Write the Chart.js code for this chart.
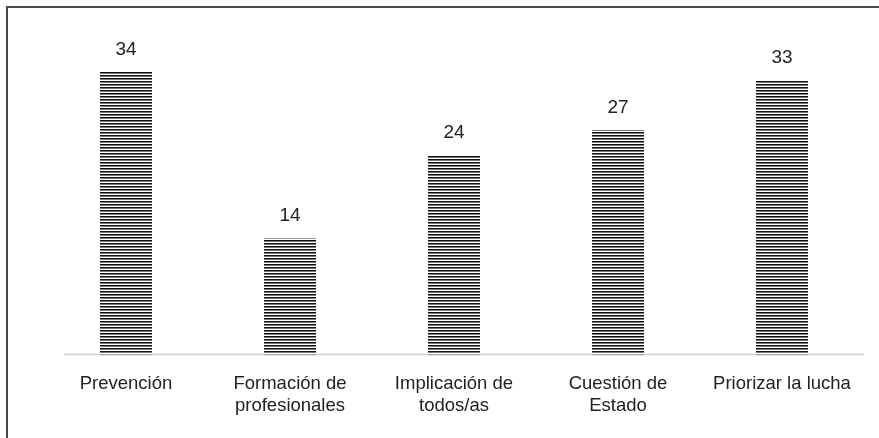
<!DOCTYPE html>
<html>
<head>
<meta charset="utf-8">
<script src="https://cdn.jsdelivr.net/npm/chart.js@4"></script>
<style>
  html, body { margin: 0; padding: 0; background: #fff; overflow: hidden; }
  #marco { position: absolute; left: 6px; top: 6px; width: 1000px; height: 1000px;
           border-top: 2px solid #4a4a4a; border-left: 2px solid #4a4a4a; }
  #cont { position: absolute; left: 0; top: 0; width: 879px; height: 438px; }
</style>
</head>
<body>
<div id="marco"></div>
<div id="cont"><canvas id="miGrafico"></canvas></div>
<script>
const categorias = [['Prevención'], ['Formación de', 'profesionales'], ['Implicación de', 'todos/as'], ['Cuestión de', 'Estado'], ['Priorizar la lucha']];
const valores = [34, 14, 24, 27, 33];

// patron de rayas horizontales
function rayas() {
  const c = document.createElement('canvas');
  c.width = 4; c.height = 3;
  const x = c.getContext('2d');
  x.fillStyle = '#fff'; x.fillRect(0, 0, 4, 3);
  x.fillStyle = '#111'; x.fillRect(0, 0, 4, 1);
  x.fillStyle = '#777'; x.fillRect(0, 1, 4, 1);
  return x.createPattern(c, 'repeat');
}

const etiquetas = {
  id: 'etiquetas',
  afterDatasetsDraw(chart) {
    const ctx = chart.ctx;
    const meta = chart.getDatasetMeta(0);
    ctx.save();
    ctx.font = '19px "Liberation Sans", Arial, sans-serif';
    ctx.fillStyle = '#222';
    ctx.textAlign = 'center';
    ctx.textBaseline = 'middle';
    meta.data.forEach((bar, i) => {
      ctx.fillText(valores[i], bar.x, bar.y - 22);
    });
    ctx.restore();
  },
  beforeDatasetsDraw(chart) {
    const ctx = chart.ctx;
    const a = chart.chartArea;
    const y = chart.scales.y.getPixelForValue(0);
    ctx.save();
    ctx.strokeStyle = '#d8d8d8';
    ctx.lineWidth = 2;
    ctx.beginPath();
    ctx.moveTo(a.left + 20, y);
    ctx.lineTo(a.right, y);
    ctx.stroke();
    ctx.restore();
  }
};

const GRAFICO = document.getElementById('miGrafico');
let grafica = new Chart(GRAFICO, {
  type: 'bar',
  data: {
    labels: categorias,
    datasets: [{
      data: valores,
      backgroundColor: rayas(),
      borderWidth: 0,
      barPercentage: 0.317,
      categoryPercentage: 1
    }]
  },
  options: {
    responsive: true,
    maintainAspectRatio: false,
    animation: false,
    layout: { padding: { left: 44, right: 15, top: 22, bottom: 3 } },
    plugins: { legend: { display: false }, tooltip: { enabled: false } },
    scales: {
      x: {
        grid: { display: false, drawTicks: false },
        border: { display: false },
        ticks: {
          color: '#222',
          padding: 18,
          maxRotation: 0,
          autoSkip: false,
          font: { family: '"Liberation Sans", Arial, sans-serif', size: 18.5, lineHeight: 1.2 }
        }
      },
      y: {
        display: false,
        min: 0,
        max: 40
      }
    }
  },
  plugins: [etiquetas]
});
</script>
</body>
</html>
